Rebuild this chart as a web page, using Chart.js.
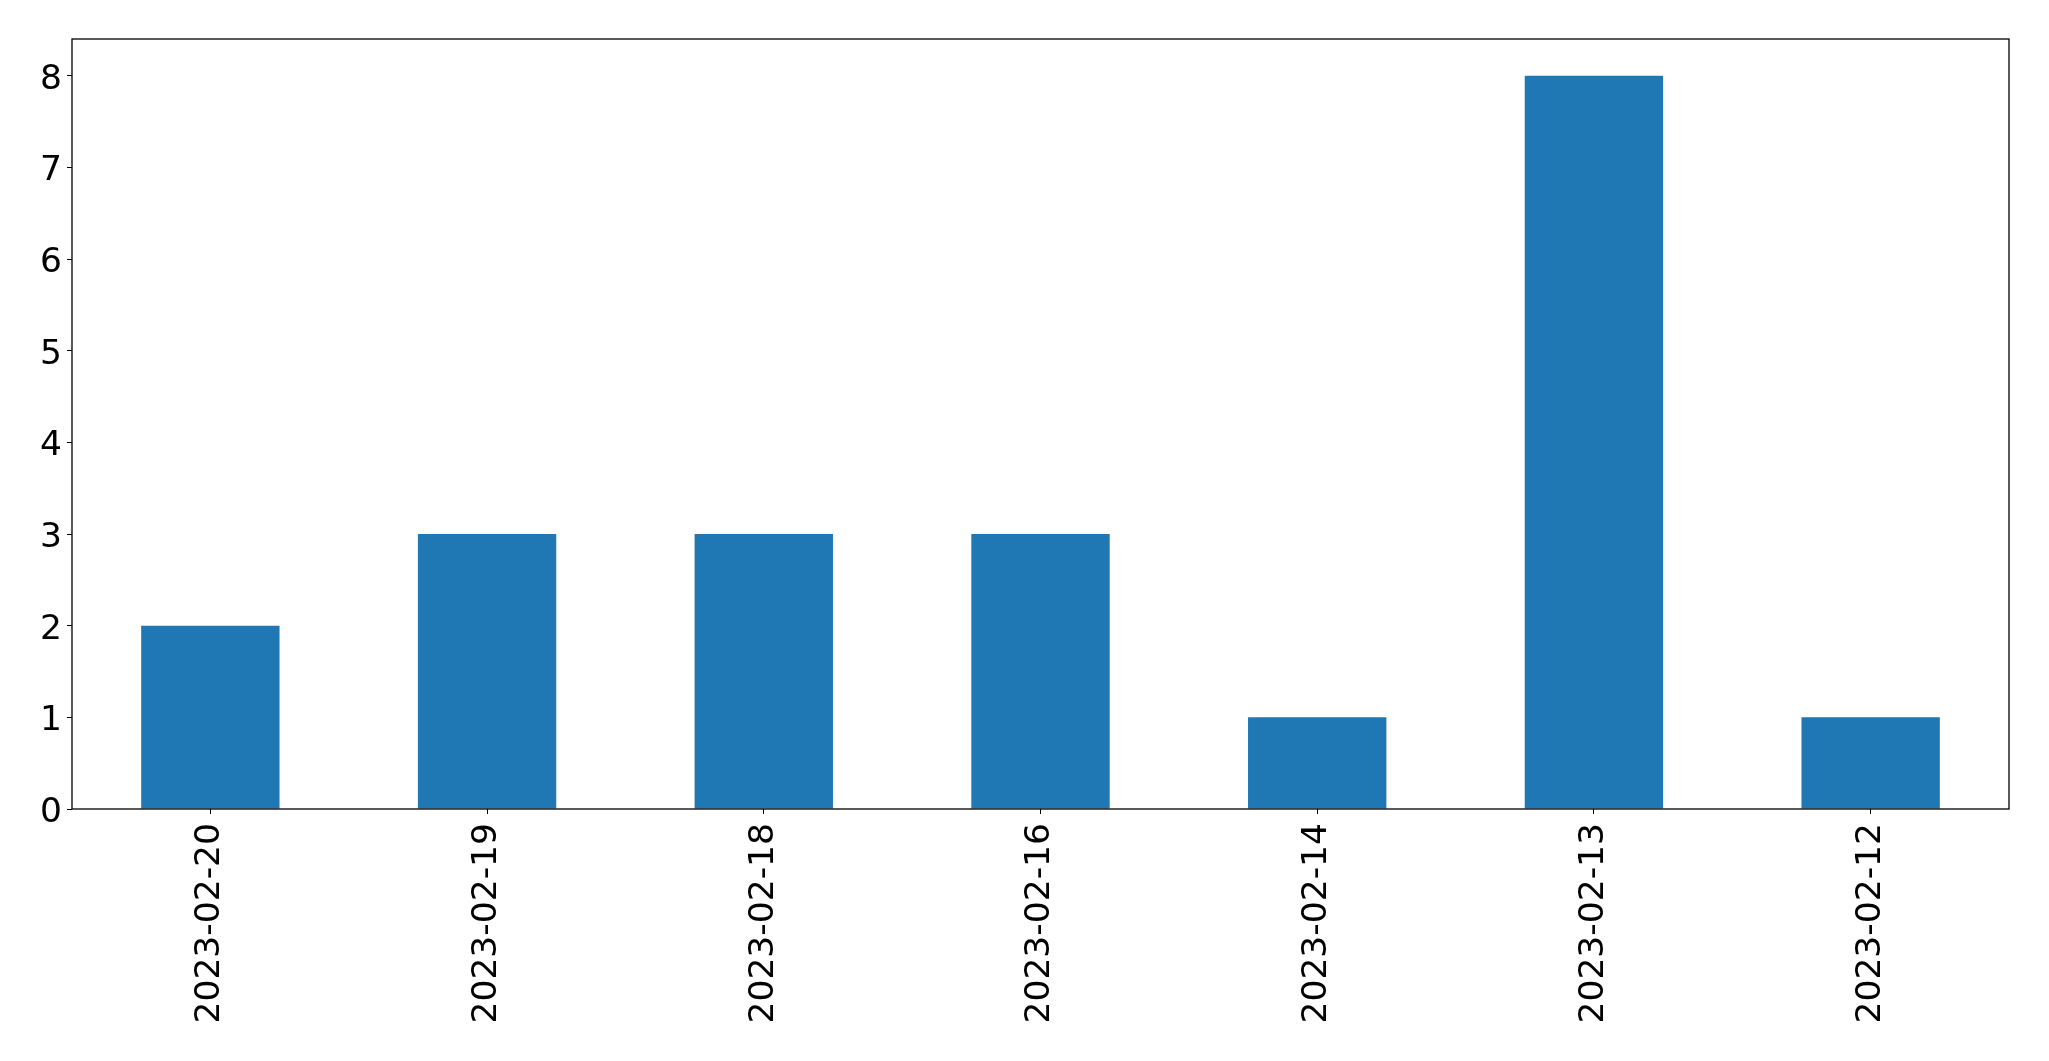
<!DOCTYPE html>
<html>
<head>
<meta charset="utf-8">
<script src="https://cdn.jsdelivr.net/npm/chart.js@4"></script>
<style>
  html, body { margin: 0; padding: 0; background: #fff; }
  #wrap { width: 2049px; height: 1061px; }
</style>
</head>
<body>
<div id="wrap"><canvas id="chart" width="2049" height="1061"></canvas></div>
<script>
// dates (x axis, as in the picture) and counts
const dates = ["2023-02-20", "2023-02-19", "2023-02-18", "2023-02-16", "2023-02-14", "2023-02-13", "2023-02-12"];
const counts = [2, 3, 3, 3, 1, 8, 1];
const yTicks = [0, 1, 2, 3, 4, 5, 6, 7, 8];
const yMax = 8.4;

const FONT = "'DejaVu Sans', sans-serif";

// frame round the plot area
const framePlugin = {
  id: "frame",
  afterDraw(chart) {
    const a = chart.chartArea;
    const ctx = chart.ctx;
    ctx.save();
    ctx.strokeStyle = "#000";
    ctx.lineWidth = 1.3;
    ctx.strokeRect(a.left, a.top, a.right - a.left, a.bottom - a.top);
    ctx.restore();
  }
};

const ctx = document.getElementById("chart").getContext("2d");
new Chart(ctx, {
  type: "bar",
  data: {
    labels: dates,
    datasets: [{
      data: counts,
      backgroundColor: "#1f77b4",
      borderWidth: 0,
      categoryPercentage: 1,
      barPercentage: 0.5
    }]
  },
  options: {
    responsive: false,
    animation: false,
    layout: { padding: { left: 0, top: 39, right: 40, bottom: 0 } },
    plugins: { legend: { display: false }, tooltip: { enabled: false } },
    scales: {
      x: {
        offset: true,
        grid: { drawOnChartArea: false, drawTicks: true, tickLength: 5, color: "#000", offset: false },
        border: { display: false },
        ticks: {
          color: "#000",
          font: { family: FONT, size: 34.5 },
          minRotation: 90,
          maxRotation: 90,
          padding: 9,
          autoSkip: false
        },
        afterFit(scale) { scale.height = 252; }
      },
      y: {
        min: 0,
        max: yMax,
        grid: { drawOnChartArea: false, drawTicks: true, tickLength: 5, color: "#000" },
        border: { display: false },
        ticks: {
          color: "#000",
          font: { family: FONT, size: 34.5 },
          padding: 5,
          labelOffset: 4
        },
        afterBuildTicks(scale) { scale.ticks = yTicks.map(v => ({ value: v })); },
        afterFit(scale) { scale.width = 72; }
      }
    }
  },
  plugins: [framePlugin]
});
</script>
</body>
</html>
